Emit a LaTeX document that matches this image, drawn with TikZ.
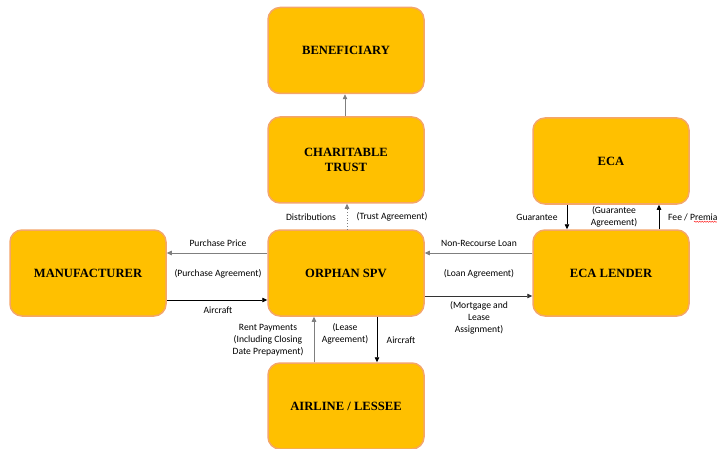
\documentclass[tikz,border=0pt]{standalone}
\usepackage{fontspec}
\setmainfont{Liberation Serif}
\newfontfamily\lblfont{Carlito}
\usetikzlibrary{arrows.meta,decorations.pathmorphing}
\definecolor{boxfill}{HTML}{FFC000}
\definecolor{boxedge}{HTML}{F4A66A}
\definecolor{arrgray}{HTML}{7F7F7F}
\tikzset{
  party/.style={draw=boxedge, fill=boxfill, line width=1.5pt, rounded corners=12pt,
    minimum width=156pt, minimum height=86pt, inner sep=0pt, align=center,
    font=\fontsize{12.6}{15}\selectfont\bfseries},
  lbl/.style={font=\lblfont\fontsize{9.6}{12}\selectfont, align=center, inner sep=0pt},
  arr/.style={line width=0.75pt, -{Triangle[length=5pt,width=4.5pt]}},
  garr/.style={arr, draw=arrgray},
}
\begin{document}
\begin{tikzpicture}[x=1pt,y=-1pt]
\useasboundingbox (0,0) rectangle (717,449);
\clip (0,0) rectangle (717,449);
\node[party] (benef) at (346,50.5) {BENEFICIARY};
\node[party] (trust) at (346,160) {CHARITABLE\\TRUST};
\node[party] (spv) at (346,273) {ORPHAN SPV};
\node[party] (manuf) at (88,273) {MANUFACTURER};
\node[party] (lender) at (611,273) {ECA LENDER};
\node[party] (eca) at (611,161) {ECA};
\node[party] (airline) at (346,406) {AIRLINE / LESSEE};

% trust -> beneficiary
\draw[garr] (trust.north -| 345,0) -- (benef.south -| 345,0);
% spv -> trust (dotted)
\draw[garr, dotted] (spv.north -| 347,0) -- (trust.south -| 347,0);
\node[lbl] (ldist) at (311,217) {Distributions};
\node[lbl] (ltrust) at (392,217) {(Trust Agreement)};

% spv <-> manufacturer
\draw[garr] (spv.west |- 0,253) -- (manuf.east |- 0,253);
\draw[arr] (manuf.east |- 0,300) -- (spv.west |- 0,300);
\node[lbl] (lpp) at (218,243) {Purchase Price};
\node[lbl] (lpa) at (218,274) {(Purchase Agreement)};
\node[lbl] (lac1) at (218,310) {Aircraft};

% spv <-> lender
\draw[garr] (lender.west |- 0,253) -- (spv.east |- 0,253);
\draw[arr, draw=black!80] (spv.east |- 0,296) -- (lender.west |- 0,296);
\node[lbl] (lnrl) at (479,243) {Non-Recourse Loan};
\node[lbl] (lla) at (479,274) {(Loan Agreement)};
\node[lbl] (lmla) at (479,318) {(Mortgage and\\Lease\\Assignment)};

% eca <-> lender
\draw[arr] (eca.south -| 567,0) -- (lender.north -| 567,0);
\draw[arr] (lender.north -| 659,0) -- (eca.south -| 659,0);
\node[lbl] (lguar) at (537,217) {Guarantee};
\node[lbl] (lga) at (614,217) {(Guarantee\\Agreement)};
\node[lbl, anchor=west] (lfee) at (668,217) {Fee / Premia};
\draw[red, line width=0.4pt, decorate, decoration={snake, amplitude=0.6pt, segment length=2.5pt}]
  ([yshift=-1pt]lfee.south west -| 694,0) -- ([yshift=-1pt]lfee.south east);

% spv <-> airline
\draw[garr] (airline.north -| 314,0) -- (spv.south -| 314,0);
\draw[arr] (spv.south -| 377,0) -- (airline.north -| 377,0);
\node[lbl] (lrent) at (268,340) {Rent Payments\\(Including Closing\\Date Prepayment)};
\node[lbl] (llease) at (345,334) {(Lease\\Agreement)};
\node[lbl] (lac2) at (401,340) {Aircraft};
\end{tikzpicture}
\end{document}
